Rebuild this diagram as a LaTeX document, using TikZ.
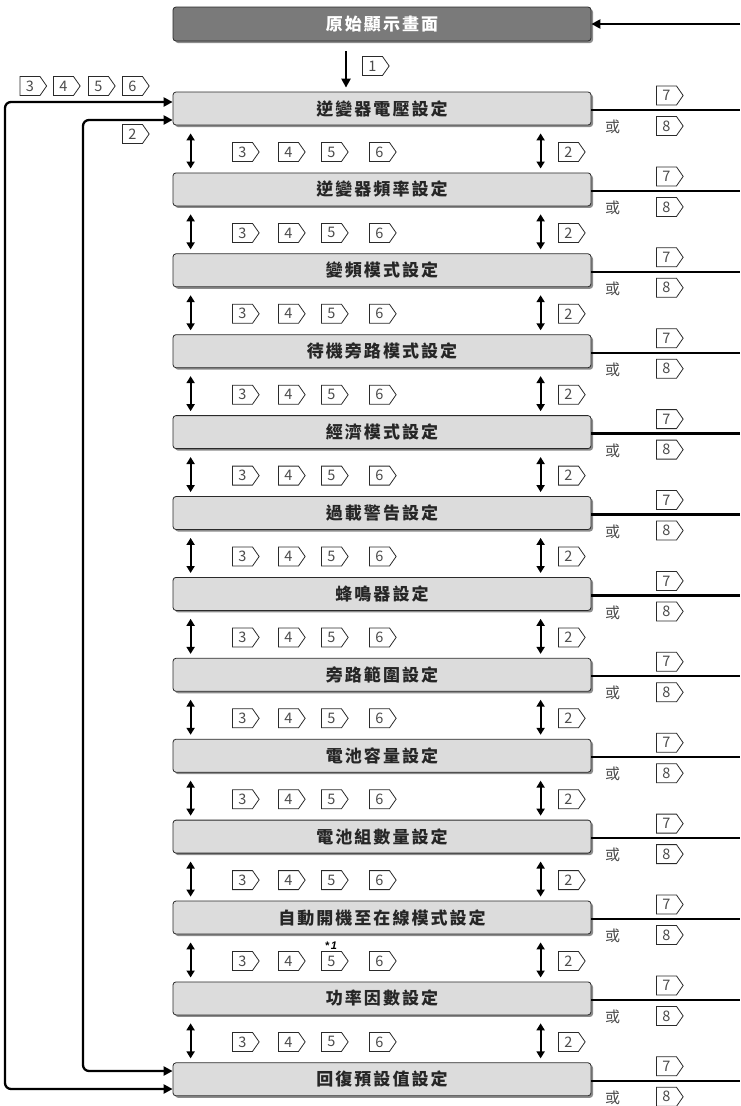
\documentclass[tikz,border=0pt]{standalone}
\usepackage{fontspec}
\newfontfamily\cjk[LetterSpace=12]{Noto Sans CJK TC}
\newfontfamily\cjkplain{Noto Sans CJK TC}
\newfontfamily\latinsans{Liberation Sans}
\usetikzlibrary{arrows.meta,shapes.symbols,shadows,calc}
\definecolor{boxfill}{HTML}{DCDCDC}
\definecolor{topfill}{HTML}{7A7A7A}
\definecolor{shadowcol}{HTML}{8C8C8C}
\definecolor{edgecol}{HTML}{2A2A2A}
\begin{document}
\begin{tikzpicture}[x=1pt,y=-1pt,
  boxstyle/.style={rectangle, rounded corners=3pt, draw=edgecol, line width=0.8pt,
    fill=boxfill, minimum width=418pt, minimum height=33pt, inner sep=0pt,
    drop shadow={shadow xshift=2pt, shadow yshift=-2pt, fill=shadowcol, opacity=1},
    font=\cjk\bfseries\fontsize{17}{19}\selectfont, text=black!85},
  topstyle/.style={boxstyle, fill=topfill, minimum height=34pt, text=white},
  keystyle/.style={shape=signal, signal to=east, signal from=nowhere,
    signal pointer angle=110, draw=edgecol, line width=0.8pt, fill=white,
    inner sep=0pt, minimum height=19pt,
    font=\cjkplain\fontsize{14.5}{15}\selectfont, text=black!70},
  orstyle/.style={font=\cjkplain\fontsize{15}{16}\selectfont, text=black!70, inner sep=0pt},
  link/.style={line width=2.3pt, draw=black},
  tip/.style={-{Triangle[length=9pt,width=9pt]}},
  dbl/.style={line width=2pt, draw=black,
    {Triangle[length=7pt,width=8pt]}-{Triangle[length=7pt,width=8pt]}}
]
\useasboundingbox (0,0) rectangle (740,1106);

% top box
\node[topstyle] (top) at (382,24) {原始顯示畫面};
\coordinate (rt) at (740,24);
\draw[link,tip] (rt) -- (top.east);

% setting boxes
\foreach \t [count=\i from 0] in {逆變器電壓設定,逆變器頻率設定,變頻模式設定,待機旁路模式設定,經濟模式設定,過載警告設定,蜂鳴器設定,旁路範圍設定,電池容量設定,電池組數量設定,自動開機至在線模式設定,功率因數設定,回復預設值設定}{
  \pgfmathsetmacro\yy{108.5+80.9*\i}
  \node[boxstyle] (b\i) at (382,\yy) {\t};
  \coordinate (r\i) at (740,\yy+1.5);
  \draw[link] (b\i.east |- r\i) -- (r\i);
  \node[keystyle] (k7-\i) at (666.5,\yy-13) {\makebox[20pt]{7}};
  \node[keystyle] (k8-\i) at (666.5,\yy+17.5) {\makebox[20pt]{8}};
  \node[orstyle] (or-\i) at (612.5,\yy+18.5) {或};
}

% rows between boxes
\foreach \i in {0,...,11}{
  \pgfmathtruncatemacro\j{\i+1}
  \pgfmathsetmacro\yy{108.5+80.9*\i+43.5}
  \draw[dbl] ($(b\i.south west)+(18,8)$) -- ($(b\j.north west)+(18,-4)$);
  \draw[dbl] ($(b\i.south west)+(368,8)$) -- ($(b\j.north west)+(368,-4)$);
  \node[keystyle] (k3-\i) at (242.5,\yy) {\makebox[20pt]{3}};
  \node[keystyle] (k4-\i) at (288.5,\yy) {\makebox[20pt]{4}};
  \node[keystyle] (k5-\i) at (331.5,\yy) {\makebox[20pt]{5}};
  \node[keystyle] (k6-\i) at (379.5,\yy) {\makebox[20pt]{6}};
  \node[keystyle] (k2-\i) at (568.5,\yy) {\makebox[20pt]{2}};
}
\node[font=\latinsans\bfseries\itshape\fontsize{11}{12}\selectfont, inner sep=0pt] (note) at (331,946) {*\,1};

% down arrow from top box
\draw[link,tip] ($(top.south)+(-36,10)$) -- ($(b0.north)+(-36,-4)$);
\node[keystyle] (k1) at (372.5,66) {\makebox[20pt]{1}};

% left loops
\coordinate (lo) at (5,600);
\coordinate (li) at (83,600);
\draw[link,rounded corners=6pt,{Triangle[length=9pt,width=9pt]}-{Triangle[length=9pt,width=9pt]}]
  ($(b0.west)+(0,-6.5)$) -| (lo) |- ($(b12.west)+(0,9.7)$);
\draw[link,rounded corners=6pt,{Triangle[length=9pt,width=9pt]}-{Triangle[length=9pt,width=9pt]}]
  ($(b0.west)+(0,11.5)$) -| (li) |- ($(b12.west)+(0,-8.3)$);
\node[keystyle] (lk3) at (30,86) {\makebox[20pt]{3}};
\node[keystyle] (lk4) at (63.5,86) {\makebox[20pt]{4}};
\node[keystyle] (lk5) at (98.5,86) {\makebox[20pt]{5}};
\node[keystyle] (lk6) at (132.5,86) {\makebox[20pt]{6}};
\node[keystyle] (lk2) at (132.5,134) {\makebox[20pt]{2}};
\end{tikzpicture}
\end{document}
